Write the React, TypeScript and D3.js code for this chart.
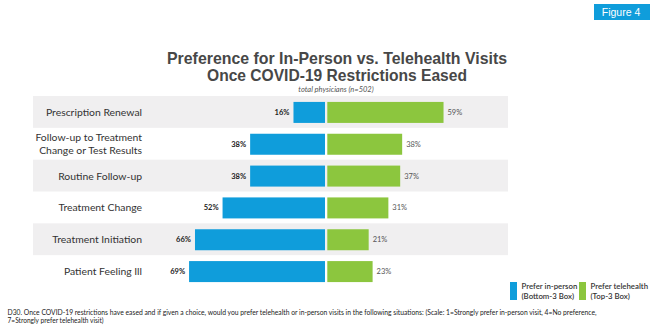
import React from "react";
import * as d3 from "d3";

const categories: string[][] = [
  ["Prescription Renewal"],
  ["Follow-up to Treatment", "Change or Test Results"],
  ["Routine Follow-up"],
  ["Treatment Change"],
  ["Treatment Initiation"],
  ["Patient Feeling Ill"],
];
const inPerson: number[] = [16, 38, 38, 52, 66, 69];
const telehealth: number[] = [59, 38, 37, 31, 21, 23];
const titleLines = [
  "Preference for In-Person vs. Telehealth Visits",
  "Once COVID-19 Restrictions Eased",
];
const subtitle = "total physicians (n=502)";
const legendItems = [
  { lines: ["Prefer in-person", "(Bottom-3 Box)"], key: "in" },
  { lines: ["Prefer telehealth", "(Top-3 Box)"], key: "tele" },
];
const footnote = [
  "D30. Once COVID-19 restrictions have eased and if given a choice, would you prefer telehealth or in-person visits in the following situations: (Scale: 1=Strongly prefer in-person visit, 4=No preference,",
  "7=Strongly prefer telehealth visit)",
];
const badge = "Figure 4";

const BLUE = "#0f9ddb";
const GREEN = "#8cc63e";
const BAND = "#f0eff0";

export default function App() {
  const W = 650;
  const H = 336;
  const idx = categories.map((_, i) => String(i));
  const y = d3.scaleBand<string>().domain(idx).range([96, 287]).paddingInner(0);
  const xL = d3.scaleLinear().domain([0, 100]).range([325, 128]);
  const xR = d3.scaleLinear().domain([0, 100]).range([327.3, 524.3]);
  const barH = 21;
  const bw = y.bandwidth();
  const color = d3.scaleOrdinal<string, string>().domain(["in", "tele"]).range([BLUE, GREEN]);

  return (
    <svg
      width={W}
      height={H}
      style={{ position: "absolute", left: 0, top: 0, background: "#fff" }}
      fontFamily="Lato, 'Open Sans', sans-serif"
    >
      {/* badge */}
      <rect x={594} y={4} width={56} height={16} fill={BLUE} />
      <text
        x={621}
        y={16}
        textAnchor="middle"
        fill="#fff"
        fontSize={10.5}
        fontFamily="'Liberation Sans Narrow', sans-serif"
      >
        {badge}
      </text>

      {/* title */}
      <text
        x={337}
        y={63.5}
        textAnchor="middle"
        fill="#474747"
        fontWeight="bold"
        fontSize={16.5}
        fontFamily="'Liberation Sans Narrow', sans-serif"
        textLength={340}
        lengthAdjust="spacingAndGlyphs"
      >
        {titleLines[0]}
      </text>
      <text
        x={337}
        y={81}
        textAnchor="middle"
        fill="#474747"
        fontWeight="bold"
        fontSize={16.5}
        fontFamily="'Liberation Sans Narrow', sans-serif"
        textLength={260}
        lengthAdjust="spacingAndGlyphs"
      >
        {titleLines[1]}
      </text>
      <text x={336} y={91.5} textAnchor="middle" fill="#555" fontStyle="italic" fontSize={7.5}>
        {subtitle}
      </text>

      {/* rows */}
      {categories.map((lines, i) => {
        const y0 = y(String(i))!;
        const cy = y0 + bw / 2;
        const by = cy - barH / 2 + 0.5;
        return (
          <g key={i}>
            {i % 2 === 0 && <rect x={33} y={y0} width={475} height={bw} fill={BAND} />}
            {lines.map((t, j) => (
              <text
                key={j}
                x={142}
                y={cy + 4 + (j - (lines.length - 1) / 2) * 12.7}
                textAnchor="end"
                fill="#333"
                fontSize={10.4}
              >
                {t}
              </text>
            ))}
            <rect x={xL(inPerson[i])} y={by} width={xL(0) - xL(inPerson[i])} height={barH} fill={BLUE} />
            <rect x={xR(0)} y={by} width={xR(telehealth[i]) - xR(0)} height={barH} fill={GREEN} />
            <text
              x={xL(inPerson[i]) - 4}
              y={cy + 3}
              textAnchor="end"
              fontSize={7.5}
              fontWeight="bold"
              fill="#222"
            >
              {inPerson[i]}%
            </text>
            <text x={xR(telehealth[i]) + 4} y={cy + 3} fontSize={7.5} fill="#555">
              {telehealth[i]}%
            </text>
          </g>
        );
      })}

      {/* legend */}
      {legendItems.map((it, k) => {
        const sx = k === 0 ? 510 : 579;
        return (
          <g key={it.key}>
            <rect x={sx} y={282} width={7} height={18} fill={color(it.key)} />
            {it.lines.map((t, j) => (
              <text key={j} x={sx + 11.5} y={289 + j * 10} fontSize={7.8} fill="#333" fontWeight={600}>
                {t}
              </text>
            ))}
          </g>
        );
      })}

      {/* footnote */}
      <text x={7.5} y={315} fontSize={6.6} fill="#222" textLength={589} lengthAdjust="spacingAndGlyphs">
        {footnote[0]}
      </text>
      <text x={7.5} y={322.5} fontSize={6.6} fill="#222">
        {footnote[1]}
      </text>
    </svg>
  );
}
